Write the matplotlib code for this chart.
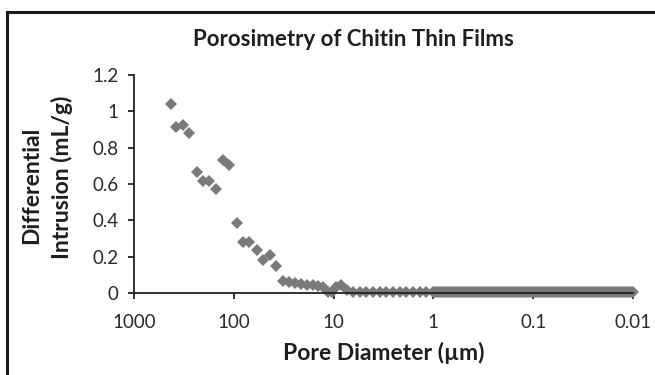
import matplotlib
matplotlib.use('Agg')
import matplotlib.pyplot as plt
from matplotlib.patches import Rectangle

plt.rcParams['font.family'] = ['Lato', 'DejaVu Sans']

# pore diameter (um) and differential intrusion (mL/g)
pore_big = [425, 379, 323, 281, 234, 204, 177, 151, 128, 112, 93, 81, 70.5,
            58.6, 51, 43.4, 37.8, 32.1]
intr_big = [1.04, 0.915, 0.925, 0.88, 0.665, 0.615, 0.615, 0.57, 0.73, 0.705,
            0.385, 0.28, 0.28, 0.237, 0.18, 0.21, 0.15, 0.065]

pore_mid = [28.0, 24.4, 21.2, 18.5, 16.1, 14.3, 12.8, 11.4, 10.4, 9.46, 8.43,
            7.35, 6.40, 5.44, 4.73, 4.03, 3.43, 2.99, 2.54, 2.16, 1.88, 1.60,
            1.36, 1.19]
intr_mid = [0.06, 0.055, 0.05, 0.046, 0.042, 0.038, 0.032, 0.008, 0.006, 0.035,
            0.042, 0.015, 0.005, 0.005, 0.004, 0.005, 0.004, 0.005, 0.005,
            0.004, 0.005, 0.004, 0.005, 0.004]

pore_fine = [1.0, 0.955, 0.912, 0.871, 0.832, 0.794, 0.759, 0.724, 0.692, 0.661,
             0.631, 0.603, 0.575, 0.550, 0.525, 0.501, 0.479, 0.457, 0.437, 0.417,
             0.398, 0.380, 0.363, 0.347, 0.331, 0.316, 0.302, 0.288, 0.275, 0.263,
             0.251, 0.240, 0.229, 0.219, 0.209, 0.200, 0.191, 0.182, 0.174, 0.166,
             0.158, 0.151, 0.145, 0.138, 0.132, 0.126, 0.120, 0.115, 0.110, 0.105,
             0.100, 0.0955, 0.0912, 0.0871, 0.0832, 0.0794, 0.0759, 0.0724, 0.0692,
             0.0661, 0.0631, 0.0603, 0.0575, 0.0550, 0.0525, 0.0501, 0.0479, 0.0457,
             0.0437, 0.0417, 0.0398, 0.0380, 0.0363, 0.0347, 0.0331, 0.0316, 0.0302,
             0.0288, 0.0275, 0.0263, 0.0251, 0.0240, 0.0229, 0.0219, 0.0209, 0.0200,
             0.0191, 0.0182, 0.0174, 0.0166, 0.0158, 0.0151, 0.0145, 0.0138, 0.0132,
             0.0126, 0.0120, 0.0115, 0.0110, 0.0105, 0.0100]
intr_fine = [0.005, 0.004, 0.005, 0.004, 0.004, 0.005, 0.004, 0.004, 0.005, 0.004,
             0.004, 0.005, 0.004, 0.004, 0.004, 0.005, 0.004, 0.004, 0.004, 0.005,
             0.004, 0.004, 0.005, 0.004, 0.004, 0.004, 0.005, 0.004, 0.004, 0.004,
             0.005, 0.004, 0.004, 0.004, 0.004, 0.005, 0.004, 0.004, 0.004, 0.004,
             0.005, 0.004, 0.004, 0.004, 0.004, 0.004, 0.005, 0.004, 0.004, 0.004,
             0.004, 0.004, 0.005, 0.004, 0.004, 0.004, 0.004, 0.004, 0.004, 0.005,
             0.004, 0.004, 0.004, 0.004, 0.004, 0.004, 0.005, 0.004, 0.004, 0.004,
             0.004, 0.004, 0.004, 0.004, 0.005, 0.004, 0.004, 0.004, 0.004, 0.004,
             0.004, 0.004, 0.005, 0.004, 0.004, 0.004, 0.004, 0.004, 0.004, 0.004,
             0.005, 0.004, 0.004, 0.004, 0.004, 0.004, 0.004, 0.004, 0.005, 0.004,
             0.004]

xticks = [1000, 100, 10, 1, 0.1, 0.01]
xtick_labels = ['1000', '100', '10', '1', '0.1', '0.01']
yticks = [0, 0.2, 0.4, 0.6, 0.8, 1, 1.2]
ytick_labels = ['0', '0.2', '0.4', '0.6', '0.8', '1', '1.2']

fig = plt.figure(figsize=(6.55, 3.75), dpi=100)
ax = fig.add_axes([134/655, 1 - 293/375, (633-134)/655, (293-75)/375])

gray = '#7a7a7a'
for xs, ys in [(pore_big, intr_big), (pore_mid, intr_mid), (pore_fine, intr_fine)]:
    ax.plot(xs, ys, linestyle='none', marker='D', markersize=6.3,
            color=gray, markeredgewidth=0, clip_on=False)

ax.set_xscale('log')
ax.set_xlim(1000, 0.01)
ax.set_ylim(0, 1.2)
ax.set_xticks(xticks)
ax.set_xticklabels(xtick_labels)
ax.set_yticks(yticks)
ax.set_yticklabels(ytick_labels)
ax.minorticks_off()

for side in ['top', 'right']:
    ax.spines[side].set_visible(False)
for side in ['left', 'bottom']:
    ax.spines[side].set_color('#222222')
    ax.spines[side].set_linewidth(1.3)
ax.tick_params(axis='both', direction='out', length=4, width=1.3,
               color='#222222', labelsize=13.5, labelcolor='#2a2a2a')
ax.tick_params(axis='x', pad=11)
ax.tick_params(axis='y', pad=7)

fig.text(353/655, 1 - 40/375, 'Porosimetry of Chitin Thin Films', ha='center',
         va='center', fontsize=16, fontweight='bold', color='#1e1e1e')
fig.text(384/655, 1 - 353/375, 'Pore Diameter (µm)', ha='center', va='center',
         fontsize=16.5, fontweight='bold', color='#1e1e1e')
fig.text(32/655, 1 - 185/375, 'Differential', ha='center', va='center',
         rotation=90, fontsize=16.5, fontweight='bold', color='#1e1e1e')
fig.text(62/655, 1 - 177/375, 'Intrusion (mL/g)', ha='center', va='center',
         rotation=90, fontsize=16.5, fontweight='bold', color='#1e1e1e')

# outer black frame, runs off the right and bottom edges
fig.patches.append(Rectangle((7/655, -0.1), 1.0, 1 - 12/375 + 0.1,
                             transform=fig.transFigure, fill=False,
                             edgecolor='#1a1a1a', linewidth=2.2))

fig.savefig('out.png', dpi=100)
